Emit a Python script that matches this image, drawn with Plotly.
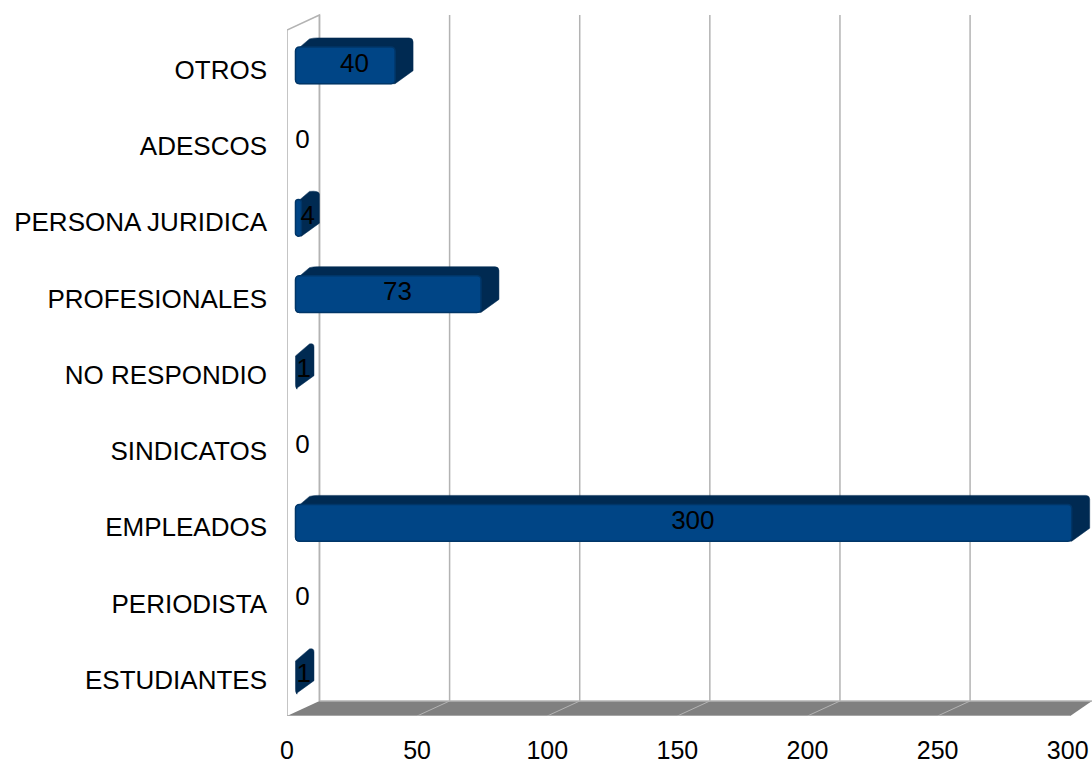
import plotly.graph_objects as go

categories = ["ESTUDIANTES", "PERIODISTA", "EMPLEADOS", "SINDICATOS", "NO RESPONDIO",
              "PROFESIONALES", "PERSONA JURIDICA", "ADESCOS", "OTROS"]
values = [1, 0, 300, 0, 1, 73, 4, 0, 40]
x_ticks = [0, 50, 100, 150, 200, 250, 300]

W, H = 1092, 764
L, B = 286.5, 48
FRONT = "#004586"
DARK = "#002a52"
EDGE = "#003668"
GRID = "#b3b3b3"
FLOOR = "#808080"
FONT = dict(family="Liberation Sans", size=26, color="#000000")
XFONT = dict(family="Liberation Sans", size=25, color="#000000")

PXU = 2.604          # px per value unit
PYU = 76.25          # px per category step
Y0 = 675.3           # pixel of first category centre
x_max = (W - L) / PXU
y_lo = (Y0 - (H - B)) / PYU
y_hi = Y0 / PYU


def dx(px):
    return px / PXU


def dy(py):
    return -py / PYU


ixs = list(range(len(categories)))
BASE = dx(8.5)
END_SHIFT = dx(4)
MIN_W = dx(0.5)
DEPX, DEPY = dx(18), dy(-9)
HALF = dy(-18.4)
rx, ry = dx(4), dy(-4)

shapes = []
WALL_X, WALL_Y = dx(32.5), dy(-15)
top = (Y0 - 30) / PYU
floor_y = y_lo
line = dict(color=GRID, width=1.5)
# side wall
shapes.append(dict(type="path", layer="below", xref="x", yref="y", line=line,
                   path=f"M 0 {floor_y} L 0 {top} L {WALL_X} {top + WALL_Y} L {WALL_X} {floor_y + WALL_Y}"))
# back wall grid lines
for t in x_ticks[:-1]:
    shapes.append(dict(type="line", layer="below", xref="x", yref="y", line=line,
                       x0=t + WALL_X, x1=t + WALL_X, y0=floor_y + WALL_Y, y1=top + WALL_Y))
# floor
fr = x_ticks[-1] + dx(2.5)
shapes.append(dict(type="path", layer="below", xref="x", yref="y", fillcolor=FLOOR,
                   line=dict(color=FLOOR, width=0),
                   path=f"M 0 {floor_y} L {WALL_X} {floor_y + WALL_Y} L {x_max} {floor_y + WALL_Y} L {fr} {floor_y} Z"))
for t in x_ticks[1:-1]:
    shapes.append(dict(type="line", layer="below", xref="x", yref="y", line=dict(color=GRID, width=1),
                       x0=t, x1=t + WALL_X, y0=floor_y, y1=floor_y + WALL_Y))
shapes.append(dict(type="line", layer="below", xref="x", yref="y", line=line,
                   x0=WALL_X, x1=x_max, y0=floor_y + WALL_Y, y1=floor_y + WALL_Y))
shapes.append(dict(type="line", layer="below", xref="x", yref="y", line=line,
                   x0=0, x1=fr, y0=floor_y, y1=floor_y))

# depth faces of the bars
lengths = []
for i, v in zip(ixs, values):
    if v == 0:
        lengths.append(None)
        continue
    w = max(v + END_SHIFT - BASE, MIN_W)
    lengths.append(w if w > MIN_W else None)
    x0, x1 = BASE, BASE + w
    b, t = i - HALF, i + HALF
    if w > 2 * rx:
        crown = (f"Q {x0 + DEPX} {t + DEPY} {x0 + DEPX + rx} {t + DEPY} "
                 f"L {x1 + DEPX - rx} {t + DEPY} Q {x1 + DEPX} {t + DEPY} {x1 + DEPX} {t + DEPY - ry} ")
    else:
        crown = f"Q {x1 + DEPX} {t + DEPY} {x1 + DEPX} {t + DEPY - ry} "
    path = (f"M {x0} {b + ry} L {x0} {t - ry} L {x0 + DEPX - rx} {t + DEPY - ry / 4} " + crown +
            f"L {x1 + DEPX} {b + DEPY + ry} L {x1} {b} L {x0 + rx / 2} {b} Q {x0} {b} {x0} {b + ry} Z")
    shapes.append(dict(type="path", layer="below", xref="x", yref="y",
                       fillcolor=DARK, line=dict(color=DARK, width=0.5), path=path))

fig = go.Figure()
fig.add_trace(go.Bar(
    orientation="h", y=ixs, x=lengths, base=BASE, width=2 * HALF,
    marker=dict(color=FRONT, line=dict(color=EDGE, width=1.5)),
    hoverinfo="skip",
))
LABEL_X = dx(15.5)
fig.add_trace(go.Scatter(
    x=[v / 2 + LABEL_X for v in values], y=[i + dy(-0.3) for i in ixs],
    mode="text", text=[str(v) for v in values], textposition="middle center",
    textfont=FONT, cliponaxis=False, hoverinfo="skip",
))
fig.update_layout(
    width=W, height=H, margin=dict(l=L, r=0, t=0, b=B, pad=0),
    paper_bgcolor="white", plot_bgcolor="white", showlegend=False,
    barcornerradius=4, shapes=shapes, font=FONT,
    xaxis=dict(range=[0, x_max], tickvals=x_ticks, showgrid=False, zeroline=False, showline=False,
               ticks="", ticklabelstandoff=17, tickfont=XFONT, automargin=False),
    yaxis=dict(range=[y_lo, y_hi], tickvals=[i + dy(4.4) for i in ixs], ticktext=categories,
               showgrid=False, zeroline=False, showline=False, ticks="",
               ticklabelstandoff=19, tickfont=FONT, automargin=False),
)
fig.write_html("out.html", config=dict(displayModeBar=False),
               post_script="document.body.style.margin='0';")
